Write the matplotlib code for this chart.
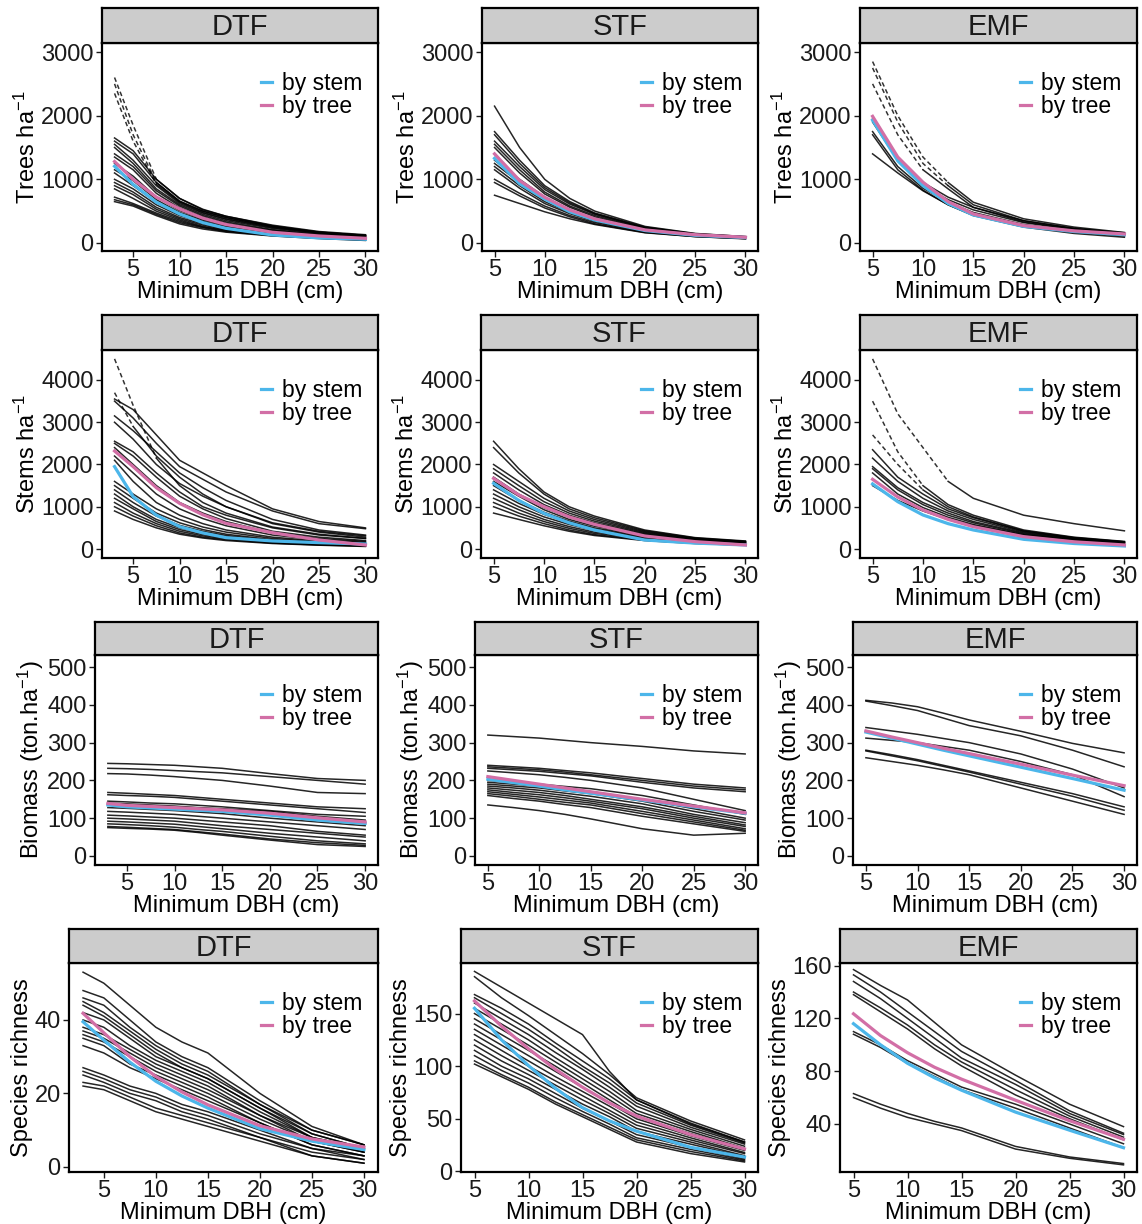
import matplotlib.pyplot as plt

plt.rcParams['font.family'] = ['Liberation Sans', 'DejaVu Sans']
plt.rcParams['mathtext.fontset'] = 'custom'
plt.rcParams['mathtext.rm'] = 'Liberation Sans'
plt.rcParams['mathtext.default'] = 'regular'

FORESTS = ['DTF', 'STF', 'EMF']
X_LABEL = 'Minimum DBH (cm)'
Y_LABELS = ['Trees ha$^{-1}$', 'Stems ha$^{-1}$',
            'Biomass (ton.ha$^{-1}$)', 'Species richness']
X_TICKS = [5, 10, 15, 20, 25, 30]

x_dtf = [3, 5, 7.5, 10, 12.5, 15, 20, 25, 30]
x_site = [5, 7.5, 10, 12.5, 15, 20, 25, 30]
x_rich_stf = [5, 7.5, 10, 12.5, 15, 17.5, 20, 25, 30]

# ---- trees per ha ----
trees_dtf = [
    [2600, 1850, 1000, 700, 530, 420, 270, 170, 120],
    [2500, 1700, 950, 660, 500, 400, 260, 165, 115],
    [2350, 1600, 920, 640, 480, 380, 250, 160, 110],
    [1650, 1450, 1000, 700, 520, 420, 280, 180, 130],
    [1600, 1400, 950, 650, 500, 400, 260, 170, 120],
    [1550, 1300, 900, 620, 470, 370, 240, 160, 110],
    [1500, 1250, 850, 600, 450, 350, 230, 150, 100],
    [1400, 1200, 820, 580, 430, 330, 210, 140, 95],
    [1350, 1150, 780, 550, 410, 310, 200, 130, 90],
    [1250, 1050, 720, 510, 380, 290, 190, 120, 85],
    [1150, 980, 680, 480, 360, 280, 180, 115, 80],
    [1100, 900, 640, 450, 340, 260, 170, 110, 75],
    [1000, 850, 600, 430, 320, 250, 160, 100, 70],
    [950, 800, 560, 400, 300, 230, 150, 95, 65],
    [900, 760, 530, 380, 280, 210, 140, 90, 60],
    [850, 700, 500, 360, 260, 200, 130, 85, 55],
    [720, 620, 470, 340, 250, 190, 125, 80, 50],
    [680, 600, 450, 320, 240, 180, 115, 75, 45],
    [650, 580, 430, 300, 220, 170, 110, 70, 40],
]
trees_dtf_dash_until = [7.5, 7.5, 7.5]
trees_dtf_stem = [1206, 920, 640, 456, 320, 230, 126, 80, 58]
trees_dtf_tree = [1280, 1000, 720, 535, 390, 290, 168, 110, 73]

trees_stf = [
    [2150, 1500, 1000, 700, 500, 260, 150, 100],
    [1750, 1300, 900, 650, 470, 250, 145, 100],
    [1700, 1250, 870, 630, 460, 240, 140, 95],
    [1600, 1200, 840, 610, 450, 235, 140, 95],
    [1550, 1150, 800, 580, 430, 225, 135, 90],
    [1500, 1100, 770, 560, 410, 215, 130, 90],
    [1300, 1000, 720, 520, 380, 205, 125, 85],
    [1250, 950, 690, 500, 370, 200, 120, 85],
    [1200, 900, 650, 480, 350, 190, 115, 80],
    [1150, 860, 620, 460, 340, 185, 110, 75],
    [1000, 780, 580, 430, 320, 175, 105, 70],
    [950, 740, 550, 410, 300, 165, 100, 70],
    [750, 620, 490, 380, 290, 160, 100, 65],
]
trees_stf_dash_until = []
trees_stf_stem = [1330, 930, 690, 490, 360, 195, 120, 85]
trees_stf_tree = [1400, 980, 718, 520, 378, 205, 130, 90]

trees_emf = [
    [2850, 2000, 1350, 950, 640, 380, 250, 165],
    [2750, 1900, 1250, 900, 600, 350, 230, 150],
    [2500, 1700, 1150, 850, 560, 330, 220, 140],
    [1950, 1350, 950, 720, 560, 350, 230, 160],
    [1900, 1300, 900, 680, 520, 320, 210, 150],
    [1750, 1200, 860, 640, 480, 290, 190, 130],
    [1700, 1150, 830, 600, 440, 260, 170, 110],
    [1400, 1100, 820, 600, 430, 250, 150, 90],
]
trees_emf_dash_until = [12.5, 12.5, 10]
trees_emf_stem = [1930, 1290, 900, 620, 440, 260, 180, 130]
trees_emf_tree = [1990, 1350, 955, 650, 456, 273, 190, 142]

# ---- stems per ha ----
stems_dtf = [
    [4500, 3400, 2150, 1500, 1100, 850, 520, 350, 250],
    [3700, 2900, 2200, 1700, 1300, 1000, 600, 400, 280],
    [3550, 3300, 2700, 2100, 1800, 1500, 950, 650, 500],
    [3500, 3100, 2500, 1950, 1650, 1350, 900, 600, 480],
    [3150, 2800, 2300, 1800, 1450, 1150, 700, 450, 330],
    [3000, 2600, 2000, 1550, 1250, 1000, 620, 420, 310],
    [2550, 2300, 1800, 1350, 1000, 800, 500, 330, 250],
    [2500, 2200, 1700, 1250, 950, 720, 420, 280, 200],
    [2400, 2000, 1500, 1100, 850, 650, 380, 250, 180],
    [2200, 1800, 1300, 950, 720, 550, 330, 220, 160],
    [2100, 1600, 1100, 800, 600, 450, 280, 190, 140],
    [1600, 1300, 950, 700, 520, 400, 250, 170, 120],
    [1500, 1200, 850, 620, 460, 350, 220, 150, 110],
    [1400, 1100, 780, 560, 420, 320, 200, 140, 100],
    [1300, 1000, 700, 500, 380, 290, 180, 125, 90],
    [1200, 950, 650, 460, 340, 260, 170, 115, 80],
    [1100, 850, 600, 420, 310, 240, 150, 105, 75],
    [1000, 780, 550, 380, 280, 220, 140, 95, 70],
    [900, 700, 500, 350, 260, 200, 130, 90, 60],
]
stems_dtf_dash_until = [7.5, 5]
stems_dtf_stem = [1950, 1240, 800, 530, 380, 268, 190, 150, 118]
stems_dtf_tree = [2320, 1950, 1450, 1080, 810, 607, 386, 213, 95]

stems_stf = [
    [2550, 1900, 1350, 1000, 780, 450, 270, 190],
    [2400, 1800, 1300, 950, 740, 430, 260, 180],
    [2000, 1600, 1200, 900, 700, 410, 250, 175],
    [1900, 1500, 1120, 850, 660, 390, 240, 170],
    [1800, 1400, 1050, 800, 620, 370, 230, 165],
    [1700, 1300, 980, 750, 580, 350, 220, 160],
    [1600, 1250, 930, 700, 540, 330, 210, 150],
    [1500, 1150, 870, 660, 500, 310, 200, 145],
    [1400, 1080, 820, 620, 470, 290, 190, 140],
    [1300, 1000, 760, 580, 440, 270, 180, 130],
    [1200, 930, 700, 530, 400, 250, 165, 120],
    [1100, 850, 650, 490, 370, 230, 150, 110],
    [1000, 780, 600, 450, 340, 210, 140, 100],
    [850, 700, 550, 420, 320, 200, 130, 90],
]
stems_stf_dash_until = []
stems_stf_stem = [1554, 1150, 844, 620, 450, 213, 140, 95]
stems_stf_tree = [1672, 1280, 1002, 760, 584, 308, 174, 95]

stems_emf = [
    [4500, 3200, 2400, 1600, 1200, 800, 600, 430],
    [3500, 2300, 1500, 1050, 800, 450, 280, 180],
    [2700, 2000, 1400, 1000, 760, 430, 270, 170],
    [2350, 1700, 1300, 950, 740, 420, 260, 170],
    [2150, 1600, 1200, 900, 700, 400, 250, 160],
    [1950, 1450, 1100, 850, 650, 380, 240, 150],
    [1900, 1400, 1050, 800, 620, 360, 230, 145],
    [1800, 1300, 980, 750, 580, 340, 220, 140],
    [1500, 1150, 900, 700, 560, 330, 210, 130],
]
stems_emf_dash_until = [12.5, 10, 10]
stems_emf_stem = [1540, 1120, 805, 600, 450, 229, 130, 71]
stems_emf_tree = [1650, 1230, 923, 700, 528, 292, 170, 95]

# ---- biomass ----
biomass_dtf = [
    [245, 244, 242, 240, 236, 232, 218, 205, 200],
    [232, 231, 229, 226, 223, 220, 210, 200, 190],
    [218, 217, 214, 210, 205, 200, 185, 168, 165],
    [168, 166, 163, 160, 155, 150, 140, 130, 125],
    [162, 160, 158, 155, 150, 145, 135, 125, 115],
    [145, 143, 140, 138, 134, 130, 120, 110, 105],
    [140, 138, 135, 132, 128, 125, 118, 105, 95],
    [128, 126, 123, 120, 116, 112, 100, 90, 80],
    [118, 116, 113, 110, 105, 100, 90, 80, 70],
    [108, 106, 103, 100, 95, 90, 80, 65, 55],
    [100, 98, 95, 92, 86, 80, 70, 60, 50],
    [92, 90, 87, 84, 78, 72, 60, 50, 40],
    [85, 83, 80, 76, 70, 65, 52, 40, 32],
    [78, 76, 73, 70, 64, 58, 45, 35, 28],
    [75, 73, 71, 68, 62, 55, 42, 30, 25],
]
biomass_dtf_dash_until = []
biomass_dtf_stem = [135, 130, 127, 124, 121, 118, 108, 95, 86]
biomass_dtf_tree = [139, 134, 131, 128, 125, 122, 113, 101, 90]

biomass_stf = [
    [320, 316, 312, 306, 300, 290, 278, 270],
    [240, 236, 232, 226, 220, 205, 190, 180],
    [236, 232, 228, 222, 215, 200, 185, 175],
    [232, 228, 224, 218, 212, 195, 180, 170],
    [225, 220, 215, 208, 200, 180, 150, 120],
    [200, 195, 190, 184, 178, 160, 135, 110],
    [195, 190, 185, 178, 170, 150, 125, 100],
    [190, 185, 180, 172, 165, 145, 118, 95],
    [185, 180, 174, 166, 158, 138, 110, 88],
    [180, 174, 168, 160, 150, 130, 105, 82],
    [175, 168, 162, 154, 145, 125, 100, 78],
    [170, 163, 156, 148, 140, 118, 95, 72],
    [165, 158, 150, 142, 135, 112, 90, 68],
    [160, 152, 145, 136, 128, 105, 85, 65],
    [135, 128, 120, 110, 98, 72, 55, 60],
]
biomass_stf_dash_until = []
biomass_stf_stem = [203, 194, 185, 175, 166, 148, 130, 113]
biomass_stf_tree = [210, 200, 190, 180, 170, 150, 132, 114]

biomass_emf = [
    [412, 405, 395, 378, 360, 330, 298, 273],
    [410, 398, 385, 365, 345, 318, 280, 236],
    [340, 331, 322, 311, 300, 270, 230, 180],
    [312, 306, 300, 290, 280, 250, 215, 157],
    [280, 268, 255, 240, 225, 195, 165, 130],
    [278, 265, 252, 237, 222, 190, 158, 121],
    [260, 250, 240, 228, 215, 180, 145, 110],
]
biomass_emf_dash_until = []
biomass_emf_stem = [328, 312, 296, 280, 265, 235, 205, 174]
biomass_emf_tree = [331, 315, 300, 285, 271, 243, 214, 186]

# ---- species richness ----
rich_dtf = [
    [53, 50, 44, 38, 34, 31, 20, 11, 6],
    [48, 46, 40, 34, 30, 27, 18, 10, 6],
    [46, 44, 38, 33, 29, 26, 17, 10, 6],
    [45, 42, 37, 32, 28, 25, 17, 9, 5],
    [44, 41, 36, 31, 27, 24, 16, 9, 5],
    [42, 40, 35, 30, 27, 24, 16, 8, 5],
    [40, 38, 33, 29, 26, 23, 15, 8, 5],
    [38, 36, 32, 28, 25, 22, 14, 8, 4],
    [37, 35, 31, 27, 24, 21, 14, 7, 4],
    [36, 34, 30, 26, 23, 20, 13, 7, 4],
    [35, 33, 28, 25, 22, 19, 12, 6, 3],
    [33, 31, 27, 24, 21, 18, 12, 6, 3],
    [27, 25, 22, 20, 17, 15, 10, 5, 3],
    [26, 24, 21, 19, 16, 14, 9, 5, 2],
    [25, 23, 20, 18, 15, 13, 8, 4, 2],
    [23, 22, 19, 16, 14, 12, 8, 3, 1],
    [22, 21, 18, 15, 13, 11, 7, 3, 1],
]
rich_dtf_dash_until = []
rich_dtf_stem = [39.5, 34.5, 28.5, 23.3, 19.3, 16, 10.4, 7, 4.7]
rich_dtf_tree = [41.8, 36.5, 30, 24.6, 20.4, 16.9, 11.2, 7.6, 5.4]

rich_stf = [
    [190, 175, 160, 145, 130, 95, 68, 45, 28],
    [185, 165, 148, 130, 112, 92, 70, 48, 30],
    [168, 155, 140, 122, 105, 88, 68, 46, 28],
    [165, 150, 135, 118, 100, 84, 65, 44, 27],
    [160, 145, 130, 113, 97, 80, 62, 42, 26],
    [155, 140, 125, 108, 92, 76, 58, 40, 24],
    [150, 135, 120, 104, 88, 72, 55, 38, 22],
    [145, 130, 115, 100, 84, 68, 52, 36, 21],
    [140, 125, 110, 95, 80, 65, 50, 34, 20],
    [135, 120, 105, 90, 76, 62, 47, 32, 18],
    [130, 115, 100, 86, 72, 58, 44, 30, 17],
    [125, 110, 96, 82, 68, 55, 41, 28, 15],
    [120, 105, 92, 78, 64, 52, 38, 26, 14],
    [115, 100, 88, 74, 60, 48, 35, 23, 12],
    [110, 96, 84, 70, 57, 45, 32, 21, 11],
    [105, 92, 80, 66, 54, 42, 30, 19, 10],
    [102, 90, 78, 64, 52, 40, 28, 17, 9],
]
rich_stf_dash_until = []
rich_stf_stem = [155, 125, 100.5, 79, 60.6, 48, 38.3, 23, 13.7]
rich_stf_tree = [162, 138, 116.5, 97, 80, 65, 52.7, 35, 21.4]

rich_emf = [
    [157, 145, 134, 117, 100, 77, 55, 38],
    [153, 140, 125, 110, 95, 73, 50, 33],
    [148, 135, 120, 105, 90, 70, 48, 32],
    [140, 128, 115, 100, 87, 66, 46, 30],
    [138, 125, 112, 97, 84, 62, 44, 28],
    [110, 100, 88, 78, 68, 55, 40, 25],
    [108, 98, 86, 76, 66, 52, 37, 22],
    [63, 55, 48, 42, 37, 23, 15, 10],
    [60, 52, 45, 40, 35, 21, 14, 9],
]
rich_emf_dash_until = []
rich_emf_stem = [116, 100, 86, 75, 65.6, 49, 35.3, 22]
rich_emf_tree = [123.5, 107, 94, 83, 74, 58, 42.5, 28.4]

panels = [
    [(x_dtf, trees_dtf, trees_dtf_dash_until, trees_dtf_stem, trees_dtf_tree),
     (x_site, trees_stf, trees_stf_dash_until, trees_stf_stem, trees_stf_tree),
     (x_site, trees_emf, trees_emf_dash_until, trees_emf_stem, trees_emf_tree)],
    [(x_dtf, stems_dtf, stems_dtf_dash_until, stems_dtf_stem, stems_dtf_tree),
     (x_site, stems_stf, stems_stf_dash_until, stems_stf_stem, stems_stf_tree),
     (x_site, stems_emf, stems_emf_dash_until, stems_emf_stem, stems_emf_tree)],
    [(x_dtf, biomass_dtf, biomass_dtf_dash_until, biomass_dtf_stem, biomass_dtf_tree),
     (x_site, biomass_stf, biomass_stf_dash_until, biomass_stf_stem, biomass_stf_tree),
     (x_site, biomass_emf, biomass_emf_dash_until, biomass_emf_stem, biomass_emf_tree)],
    [(x_dtf, rich_dtf, rich_dtf_dash_until, rich_dtf_stem, rich_dtf_tree),
     (x_rich_stf, rich_stf, rich_stf_dash_until, rich_stf_stem, rich_stf_tree),
     (x_site, rich_emf, rich_emf_dash_until, rich_emf_stem, rich_emf_tree)],
]

y_ticks = [
    [[0, 1000, 2000, 3000]] * 3,
    [[0, 1000, 2000, 3000, 4000]] * 3,
    [[0, 100, 200, 300, 400, 500]] * 3,
    [[0, 20, 40], [0, 50, 100, 150], [40, 80, 120, 160]],
]
y_lims = [
    [(-126, 3142)] * 3,
    [(-213, 4710)] * 3,
    [(-24, 532)] * 3,
    [(-1.4, 55.5), (-0.5, 198), (3.6, 162)],
]

# pixel layout (figure 1142 x 1224)
W, H = 1142, 1224
row_y = [(8, 43, 251), (315, 350, 558), (622, 655, 865), (929, 963, 1172)]
col_x = [
    [(102, 378), (482, 758), (860, 1137)],
    [(102, 378), (481, 758), (860, 1137)],
    [(95, 378), (475, 758), (853, 1137)],
    [(69, 378), (461, 758), (840, 1137)],
]

STEM_COL = '#4cb6ea'
TREE_COL = '#d26fa6'
FS = 17


def box(l, t, r, b):
    return [l / W, 1 - b / H, (r - l) / W, (b - t) / H]


fig = plt.figure(figsize=(W / 100, H / 100), dpi=100)

for i in range(4):
    st, at, ab = row_y[i]
    for j in range(3):
        l, r = col_x[i][j]
        x, lines, dash_until, stem, tree = panels[i][j]

        ax = fig.add_axes(box(l, at, r, ab))
        for k, ys in enumerate(lines):
            d = dash_until[k] if k < len(dash_until) else None
            if d:
                xd = [a for a in x if a <= d]
                ax.plot(xd, ys[:len(xd)], color='black', lw=1.1, alpha=0.8,
                        ls=(0, (3, 2)))
                ax.plot(x[len(xd) - 1:], ys[len(xd) - 1:], color='black',
                        lw=1.1, alpha=0.85)
            else:
                ax.plot(x, ys, color='black', lw=1.1, alpha=0.85)
        ax.plot(x, stem, color=STEM_COL, lw=2.3, label='by stem')
        ax.plot(x, tree, color=TREE_COL, lw=2.3, label='by tree')

        ax.set_xlim(x[0] - 0.05 * (30 - x[0]), 30 + 0.05 * (30 - x[0]))
        ax.set_ylim(*y_lims[i][j])
        ax.set_xticks(X_TICKS)
        ax.set_yticks(y_ticks[i][j])
        ax.tick_params(direction='out', length=4, width=1, labelsize=FS,
                       pad=2, colors='#1a1a1a')
        for s in ax.spines.values():
            s.set_linewidth(1.6)
        ax.set_xlabel(X_LABEL, fontsize=FS, labelpad=0)
        ax.set_ylabel(Y_LABELS[i], fontsize=FS, labelpad=1)
        ax.legend(loc='upper right', bbox_to_anchor=(1.0, 0.94), frameon=False,
                  fontsize=16.5, handlelength=0.5, handletextpad=0.4,
                  labelspacing=0.0, borderaxespad=0.3)

        sx = fig.add_axes(box(l, st, r, at))
        sx.set_facecolor('#cccccc')
        sx.set_xticks([])
        sx.set_yticks([])
        for s in sx.spines.values():
            s.set_linewidth(1.6)
        sx.text(0.5, 0.45, FORESTS[j], ha='center', va='center', fontsize=21,
                transform=sx.transAxes, color='#1a1a1a')

fig.savefig('out.png', dpi=100)
